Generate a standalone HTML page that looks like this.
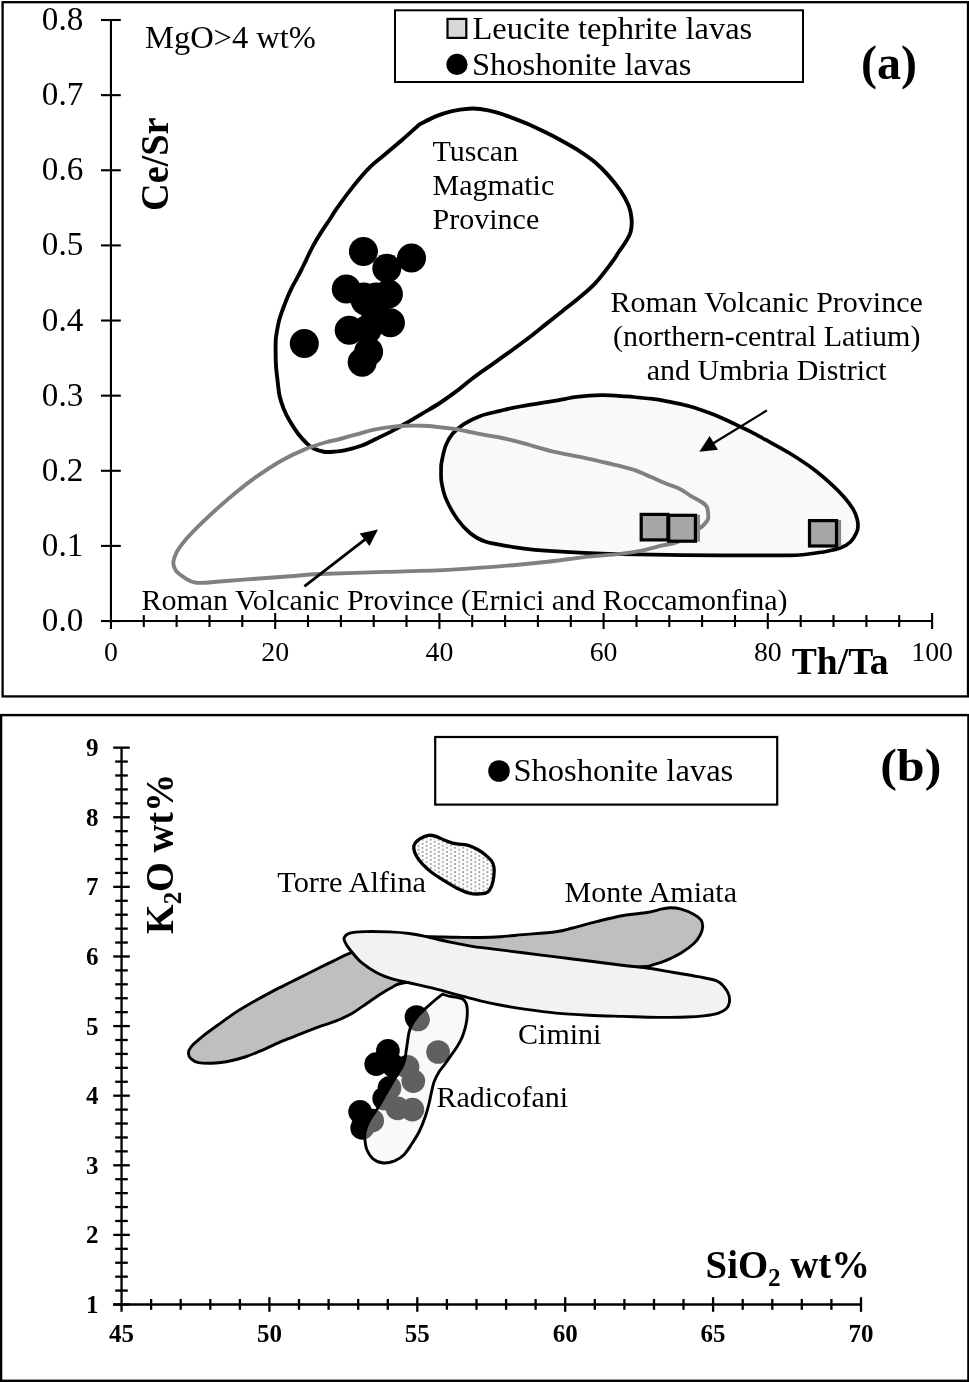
<!DOCTYPE html>
<html><head><meta charset="utf-8"><style>
html,body{margin:0;padding:0;background:#fff;}
svg{display:block;will-change:transform;}
text{font-family:"Liberation Serif",serif;fill:#000;font-variant-ligatures:none;font-feature-settings:"liga" 0,"clig" 0;}
</style></head><body>
<svg width="969" height="1382" viewBox="0 0 969 1382">
<defs>
<pattern id="stip" x="0.5" y="0.5" width="8.1" height="4.05" patternUnits="userSpaceOnUse">
<rect width="8.1" height="4.05" fill="#fff"/><rect x="0" y="0" width="1.9" height="1.8" fill="#a0a0a0"/><rect x="4.05" y="2.02" width="1.9" height="1.8" fill="#a0a0a0"/>
</pattern>
</defs>

<rect x="2.6" y="2.2" width="965.4" height="694.2" fill="none" stroke="#000" stroke-width="2.3"/>
<path d="M560.0,399.9 C569.4,398.3 569.6,397.7 576.5,396.9 C583.4,396.1 593.0,395.3 601.3,395.2 C609.5,395.1 619.5,396.0 626.0,396.4 C632.5,396.8 635.6,397.3 640.0,397.7 C644.4,398.1 648.3,398.4 652.4,398.9 C656.5,399.4 660.7,400.1 664.8,400.9 C668.9,401.6 673.1,402.5 677.2,403.4 C681.3,404.3 685.4,405.2 689.5,406.3 C693.6,407.4 697.8,408.8 701.9,410.2 C706.0,411.6 710.2,413.1 714.3,414.8 C718.4,416.5 722.6,418.4 726.7,420.3 C730.8,422.2 735.0,424.2 739.1,426.2 C743.2,428.2 747.0,429.8 751.5,432.1 C756.0,434.4 760.0,436.7 766.4,440.2 C772.8,443.7 782.0,448.5 789.7,453.3 C797.5,458.1 805.9,463.6 812.9,468.8 C819.9,474.0 826.4,479.7 831.5,484.3 C836.6,488.9 840.2,492.6 843.8,496.7 C847.4,500.8 850.9,505.5 853.1,509.1 C855.3,512.7 856.2,515.6 857.0,518.4 C857.8,521.2 858.1,523.6 858.0,526.0 C857.9,528.4 857.9,529.8 856.6,532.5 C855.3,535.2 853.0,539.5 850.4,542.0 C847.8,544.5 845.0,546.1 841.1,547.6 C837.2,549.1 832.6,550.2 827.2,551.3 C821.8,552.4 814.8,553.3 808.6,554.0 C802.4,554.7 804.8,555.1 790.0,555.3 C775.2,555.5 745.8,555.5 720.0,555.4 C694.2,555.2 658.1,554.8 635.5,554.4 C612.9,554.0 601.0,553.6 584.2,552.8 C567.4,552.0 547.1,550.8 534.7,549.8 C522.3,548.8 518.3,547.9 510.0,546.5 C501.7,545.1 491.8,543.9 485.1,541.6 C478.4,539.4 474.6,536.8 470.0,533.0 C465.4,529.2 461.2,524.7 457.2,519.0 C453.2,513.3 448.5,504.8 445.9,498.6 C443.3,492.4 442.3,486.8 441.5,482.0 C440.7,477.2 441.1,473.3 441.1,470.0 C441.1,466.7 440.8,466.2 441.6,462.1 C442.4,458.0 443.9,450.3 445.7,445.6 C447.5,440.9 449.3,437.6 452.3,434.0 C455.3,430.4 459.1,427.1 463.8,424.1 C468.5,421.1 474.4,418.1 480.4,415.9 C486.4,413.7 493.4,412.5 500.0,410.9 C506.6,409.3 510.0,408.3 520.0,406.5 C530.0,404.7 550.6,401.5 560.0,399.9Z" fill="#f9f9f9" stroke="#000" stroke-width="3.7"/>
<path d="M419.1,124.7 C424.6,121.9 430.1,118.7 435.6,116.4 C441.1,114.1 446.6,112.4 452.1,111.1 C457.6,109.8 464.0,109.0 468.6,108.7 C473.2,108.4 475.4,108.4 480.0,109.0 C484.6,109.6 491.0,110.8 496.5,112.3 C502.0,113.8 507.5,116.0 513.0,118.1 C518.5,120.2 524.0,122.3 529.5,124.7 C535.0,127.1 540.5,129.8 546.0,132.6 C551.5,135.3 557.1,138.2 562.6,141.2 C568.1,144.2 573.6,147.2 579.1,150.8 C584.6,154.4 590.7,158.5 595.6,162.7 C600.5,166.9 604.7,171.2 608.8,175.9 C612.9,180.6 617.1,185.8 620.4,190.7 C623.7,195.6 626.7,200.9 628.6,205.6 C630.5,210.3 631.3,214.4 631.6,218.8 C631.9,223.2 631.7,228.1 630.6,232.0 C629.5,235.9 627.3,239.2 625.3,242.5 C623.3,245.8 620.9,248.8 618.7,252.0 C616.5,255.2 616.0,256.9 612.1,262.0 C608.2,267.1 601.1,276.9 595.6,282.8 C590.1,288.8 584.6,293.0 579.1,297.7 C573.6,302.4 568.1,306.5 562.6,310.9 C557.1,315.3 551.5,319.7 546.0,324.1 C540.5,328.5 535.0,333.1 529.5,337.3 C524.0,341.5 518.5,345.5 513.0,349.5 C507.5,353.5 503.3,356.4 496.5,361.3 C489.7,366.2 478.9,373.6 472.1,378.7 C465.3,383.8 461.1,387.8 455.6,391.9 C450.1,396.0 444.6,399.9 439.1,403.5 C433.6,407.1 428.1,410.1 422.6,413.4 C417.1,416.7 411.5,420.1 406.0,423.3 C400.5,426.5 395.0,429.5 389.5,432.4 C384.0,435.2 377.6,438.2 373.0,440.4 C368.4,442.6 366.7,443.8 362.0,445.5 C357.3,447.2 349.2,449.4 344.6,450.4 C340.0,451.4 337.6,451.5 334.2,451.7 C330.8,451.9 327.3,452.2 323.9,451.7 C320.5,451.2 316.5,450.1 313.6,448.6 C310.7,447.2 309.0,445.5 306.4,443.0 C303.8,440.5 300.9,437.3 298.1,433.7 C295.4,430.1 292.3,425.4 289.9,421.3 C287.5,417.2 285.4,413.2 283.7,408.9 C282.0,404.6 280.5,400.3 279.5,395.5 C278.5,390.7 278.1,384.9 277.5,380.0 C276.9,375.1 276.3,370.9 276.0,365.9 C275.7,360.9 275.6,354.4 275.6,350.0 C275.6,345.6 275.6,342.7 275.8,339.5 C276.0,336.3 276.5,333.7 277.0,330.8 C277.5,327.9 278.0,325.0 278.7,322.1 C279.4,319.2 280.3,316.3 281.3,313.4 C282.3,310.5 283.4,307.6 284.5,304.7 C285.6,301.8 286.8,298.9 288.0,296.0 C289.2,293.1 290.6,290.3 292.0,287.4 C293.4,284.5 295.1,281.6 296.7,278.7 C298.2,275.8 299.7,273.1 301.3,270.0 C302.9,266.9 304.3,263.7 306.2,259.8 C308.1,255.9 310.3,251.0 312.8,246.4 C315.3,241.8 318.3,236.8 321.1,232.4 C323.9,228.0 326.8,223.9 329.4,220.0 C332.0,216.1 332.6,214.5 336.5,208.9 C340.4,203.3 347.5,193.5 353.0,186.6 C358.5,179.7 364.0,173.1 369.5,167.6 C375.0,162.1 380.5,158.3 386.0,153.6 C391.5,148.9 397.1,144.3 402.6,139.5 C408.1,134.7 413.6,129.6 419.1,124.7Z" fill="none" stroke="#000" stroke-width="3.9"/>
<path d="M325.0,442.5 C319.2,444.2 312.5,446.2 305.4,449.1 C298.3,452.0 290.9,455.3 282.6,460.0 C274.3,464.7 263.8,471.6 255.8,477.2 C247.8,482.8 241.3,488.1 234.4,493.7 C227.5,499.3 220.6,505.5 214.5,511.0 C208.4,516.5 202.9,521.8 198.0,526.7 C193.1,531.7 188.4,536.4 184.8,540.7 C181.2,545.0 178.5,548.7 176.6,552.3 C174.7,555.9 173.5,559.2 173.3,562.2 C173.2,565.2 173.8,567.8 175.7,570.4 C177.6,573.0 181.4,575.8 184.8,577.9 C188.2,580.0 190.1,582.2 196.4,582.8 C202.7,583.3 212.9,581.9 222.8,581.2 C232.7,580.5 244.6,579.5 255.8,578.7 C267.0,577.9 279.3,577.1 290.0,576.3 C300.7,575.5 304.0,574.7 320.0,574.0 C336.0,573.3 364.0,572.6 386.0,571.9 C408.0,571.2 430.1,570.8 452.1,569.6 C474.1,568.4 501.8,566.1 518.1,564.7 C534.4,563.4 539.0,562.8 550.0,561.5 C561.0,560.2 572.5,558.4 584.2,557.1 C595.9,555.8 610.6,555.0 620.0,553.9 C629.4,552.8 633.7,552.2 640.6,550.8 C647.5,549.4 655.4,547.1 661.3,545.7 C667.1,544.3 670.9,544.3 675.7,542.6 C680.5,540.9 686.2,537.8 690.0,535.5 C693.8,533.2 696.3,530.7 698.4,529.1 C700.5,527.5 701.0,527.5 702.6,526.0 C704.2,524.5 706.8,521.8 707.7,519.9 C708.6,518.0 708.4,517.0 708.2,514.7 C708.0,512.5 708.0,508.6 706.7,506.4 C705.4,504.2 703.2,503.1 700.5,501.3 C697.8,499.5 693.6,497.7 690.2,495.6 C686.8,493.5 683.9,490.9 679.9,488.9 C675.9,486.9 671.2,485.7 666.4,483.7 C661.6,481.7 656.1,479.2 651.0,477.0 C645.9,474.8 640.7,472.1 635.5,470.3 C630.3,468.5 623.6,466.9 620.0,466.0 C616.4,465.1 618.9,465.8 613.8,464.6 C608.6,463.4 598.7,460.9 589.1,458.8 C579.5,456.7 567.0,454.8 556.0,452.2 C545.0,449.6 532.3,445.6 523.0,443.1 C513.7,440.7 505.7,438.7 500.0,437.5 C494.3,436.3 493.2,436.6 488.6,435.7 C484.0,434.8 477.6,433.5 472.1,432.4 C466.6,431.3 461.1,430.0 455.6,429.1 C450.1,428.2 444.6,427.7 439.1,427.1 C433.6,426.6 428.1,426.0 422.6,425.8 C417.1,425.6 411.5,425.6 406.0,425.8 C400.5,426.0 395.0,426.4 389.5,427.1 C384.0,427.8 378.5,428.7 373.0,429.9 C367.5,431.1 362.0,432.9 356.5,434.4 C351.0,435.9 345.2,437.6 340.0,439.0 C334.8,440.4 330.8,440.8 325.0,442.5Z" fill="none" stroke="#808080" stroke-width="3.9"/>
<rect x="641.2" y="514.4" width="26.7" height="25.5" fill="#a6a6a6" stroke="#000" stroke-width="3.2"/>
<rect x="696.0" y="514.7" width="4" height="27.1" fill="#888"/><rect x="668.7" y="515.3" width="26.7" height="25.9" fill="#a6a6a6" stroke="#000" stroke-width="3.2"/>
<rect x="837.1" y="520.0" width="4" height="26.6" fill="#888"/><rect x="809.5" y="520.6" width="27.0" height="25.4" fill="#a6a6a6" stroke="#000" stroke-width="3.2"/>
<circle cx="304.3" cy="343.4" r="14.5" fill="#000"/>
<circle cx="363.4" cy="251.4" r="14.5" fill="#000"/>
<circle cx="411.5" cy="258" r="14.5" fill="#000"/>
<circle cx="386.8" cy="268.3" r="14.5" fill="#000"/>
<circle cx="346.3" cy="289" r="14.5" fill="#000"/>
<circle cx="388.4" cy="294" r="14.5" fill="#000"/>
<circle cx="363.8" cy="297" r="14.5" fill="#000"/>
<circle cx="390.4" cy="322.8" r="14.5" fill="#000"/>
<circle cx="349.2" cy="330.3" r="14.5" fill="#000"/>
<circle cx="367.2" cy="329.4" r="14.5" fill="#000"/>
<circle cx="368.6" cy="351.7" r="14.5" fill="#000"/>
<circle cx="362.2" cy="362.2" r="14.5" fill="#000"/>
<circle cx="365.5" cy="301" r="14.5" fill="#000"/>
<circle cx="376" cy="297" r="14.5" fill="#000"/>
<circle cx="375.5" cy="312" r="14.5" fill="#000"/>
<line x1="304.4" y1="586.4" x2="366.1" y2="538.6" stroke="#000" stroke-width="2.8"/><polygon points="378,529.4 369.5,546.1 359.7,533.5" fill="#000"/>
<line x1="766.9" y1="410.4" x2="712.1" y2="444.0" stroke="#000" stroke-width="2.2"/><polygon points="699.3,451.8 709.6,436.1 718.0,449.7" fill="#000"/>
<g stroke="#000" stroke-width="2.1" fill="none">
<line x1="110.95" y1="20.00999999999999" x2="110.95" y2="629"/>
<line x1="101" y1="621.05" x2="932.0500000000001" y2="621.05"/>
<line x1="101" y1="621.05" x2="120.8" y2="621.05"/>
<line x1="101" y1="545.92" x2="120.8" y2="545.92"/>
<line x1="101" y1="470.79" x2="120.8" y2="470.79"/>
<line x1="101" y1="395.66" x2="120.8" y2="395.66"/>
<line x1="101" y1="320.53" x2="120.8" y2="320.53"/>
<line x1="101" y1="245.40" x2="120.8" y2="245.40"/>
<line x1="101" y1="170.27" x2="120.8" y2="170.27"/>
<line x1="101" y1="95.14" x2="120.8" y2="95.14"/>
<line x1="101" y1="20.01" x2="120.8" y2="20.01"/>
<line x1="143.8" y1="615.05" x2="143.8" y2="627"/>
<line x1="176.6" y1="615.05" x2="176.6" y2="627"/>
<line x1="209.5" y1="615.05" x2="209.5" y2="627"/>
<line x1="242.3" y1="615.05" x2="242.3" y2="627"/>
<line x1="275.2" y1="613" x2="275.2" y2="629"/>
<line x1="308.0" y1="615.05" x2="308.0" y2="627"/>
<line x1="340.9" y1="615.05" x2="340.9" y2="627"/>
<line x1="373.7" y1="615.05" x2="373.7" y2="627"/>
<line x1="406.5" y1="615.05" x2="406.5" y2="627"/>
<line x1="439.4" y1="613" x2="439.4" y2="629"/>
<line x1="472.2" y1="615.05" x2="472.2" y2="627"/>
<line x1="505.1" y1="615.05" x2="505.1" y2="627"/>
<line x1="537.9" y1="615.05" x2="537.9" y2="627"/>
<line x1="570.8" y1="615.05" x2="570.8" y2="627"/>
<line x1="603.6" y1="613" x2="603.6" y2="629"/>
<line x1="636.5" y1="615.05" x2="636.5" y2="627"/>
<line x1="669.3" y1="615.05" x2="669.3" y2="627"/>
<line x1="702.1" y1="615.05" x2="702.1" y2="627"/>
<line x1="735.0" y1="615.05" x2="735.0" y2="627"/>
<line x1="767.8" y1="613" x2="767.8" y2="629"/>
<line x1="800.7" y1="615.05" x2="800.7" y2="627"/>
<line x1="833.5" y1="615.05" x2="833.5" y2="627"/>
<line x1="866.4" y1="615.05" x2="866.4" y2="627"/>
<line x1="899.2" y1="615.05" x2="899.2" y2="627"/>
<line x1="932.1" y1="613" x2="932.1" y2="629"/>
</g>
<text x="83.3" y="631.0" font-size="33.2" text-anchor="end">0.0</text>
<text x="83.3" y="555.9" font-size="33.2" text-anchor="end">0.1</text>
<text x="83.3" y="480.8" font-size="33.2" text-anchor="end">0.2</text>
<text x="83.3" y="405.7" font-size="33.2" text-anchor="end">0.3</text>
<text x="83.3" y="330.5" font-size="33.2" text-anchor="end">0.4</text>
<text x="83.3" y="255.4" font-size="33.2" text-anchor="end">0.5</text>
<text x="83.3" y="180.3" font-size="33.2" text-anchor="end">0.6</text>
<text x="83.3" y="105.1" font-size="33.2" text-anchor="end">0.7</text>
<text x="83.3" y="30.0" font-size="33.2" text-anchor="end">0.8</text>
<text x="111.0" y="661.2" font-size="27.8" text-anchor="middle">0</text>
<text x="275.2" y="661.2" font-size="27.8" text-anchor="middle">20</text>
<text x="439.4" y="661.2" font-size="27.8" text-anchor="middle">40</text>
<text x="603.6" y="661.2" font-size="27.8" text-anchor="middle">60</text>
<text x="767.8" y="661.2" font-size="27.8" text-anchor="middle">80</text>
<text x="932.1" y="661.2" font-size="27.8" text-anchor="middle">100</text>
<text x="791.8" y="674.4" font-size="37.6" font-weight="bold">Th/Ta</text>
<text transform="translate(168,211) rotate(-90) scale(0.945,1)" font-size="40.5" font-weight="bold">Ce/Sr</text>
<text x="145" y="48" font-size="32.5">MgO&gt;4 wt%</text>
<text x="861" y="78.8" font-size="48" font-weight="bold">(a)</text>
<rect x="395" y="10.3" width="408" height="71.7" fill="#fff" stroke="#000" stroke-width="2"/>
<rect x="447.5" y="18.9" width="18.8" height="19" fill="#d8d8d8" stroke="#000" stroke-width="2.2"/>
<circle cx="457" cy="64.4" r="10.6" fill="#000"/>
<text x="472.5" y="39" font-size="32.5">Leucite tephrite lavas</text>
<text x="472" y="74.7" font-size="32.5">Shoshonite lavas</text>
<text x="432.6" y="160.9" font-size="30">Tuscan</text>
<text x="432.6" y="195" font-size="30">Magmatic</text>
<text x="432.6" y="228.7" font-size="30">Province</text>
<text x="766.7" y="312.3" font-size="30" text-anchor="middle">Roman Volcanic Province</text>
<text x="766.7" y="346.1" font-size="30" text-anchor="middle">(northern-central Latium)</text>
<text x="766.7" y="379.6" font-size="30" text-anchor="middle">and Umbria District</text>
<text x="141.4" y="610.2" font-size="30">Roman Volcanic Province (Ernici and Roccamonf&#8204;ina)</text>
<rect x="1.1" y="715.1" width="967.3" height="665.7" fill="none" stroke="#000" stroke-width="2.4"/>
<path d="M188.4,1053.3 C188.4,1051.3 188.8,1049.6 191.1,1046.8 C193.4,1044.0 198.0,1040.1 202.3,1036.6 C206.7,1033.0 211.6,1029.5 217.2,1025.5 C222.8,1021.5 229.5,1016.4 235.7,1012.4 C241.9,1008.4 248.1,1004.8 254.3,1001.3 C260.5,997.8 266.7,994.4 272.9,991.1 C279.1,987.9 285.3,984.9 291.5,981.8 C297.7,978.7 305.2,974.9 310.0,972.5 C314.8,970.1 315.8,969.6 320.0,967.5 C324.2,965.4 330.7,962.3 335.5,960.0 C340.3,957.7 343.1,955.9 348.9,953.6 C354.6,951.3 362.3,948.2 370.0,946.0 C377.7,943.8 387.5,941.8 395.0,940.5 C402.5,939.2 409.3,938.6 415.0,938.0 C420.7,937.4 422.4,936.9 429.2,936.8 C436.0,936.7 447.1,937.2 455.6,937.3 C464.1,937.4 473.0,937.6 480.4,937.5 C487.8,937.4 492.9,937.3 500.0,936.8 C507.1,936.3 513.7,935.5 523.0,934.6 C532.3,933.8 547.7,932.8 556.0,931.7 C564.3,930.6 565.7,929.7 572.6,928.0 C579.5,926.3 589.0,923.4 597.3,921.4 C605.5,919.4 613.8,917.3 622.1,915.8 C630.4,914.3 641.0,913.5 647.0,912.5 C653.0,911.5 654.6,910.6 658.4,909.8 C662.2,909.0 665.9,907.9 669.7,907.8 C673.5,907.7 677.1,908.1 681.1,909.2 C685.1,910.3 690.3,912.5 693.6,914.3 C696.9,916.1 699.5,917.9 701.0,920.0 C702.5,922.1 702.8,924.3 702.7,926.8 C702.6,929.2 701.9,931.9 700.4,934.7 C698.9,937.5 696.8,940.8 693.6,943.8 C690.4,946.8 685.7,950.1 681.1,952.9 C676.5,955.6 671.0,958.3 666.3,960.3 C661.6,962.3 656.3,963.8 652.7,964.8 C649.1,965.8 653.6,965.6 644.8,966.5 C636.0,967.4 620.8,968.8 600.0,970.0 C579.2,971.2 546.7,972.7 520.0,974.0 C493.3,975.3 459.6,976.5 440.0,978.0 C420.4,979.5 410.6,981.5 402.6,983.0 C394.6,984.5 395.6,985.5 392.2,987.2 C388.8,988.9 386.2,990.5 381.9,993.3 C377.6,996.0 371.5,1000.2 366.4,1003.7 C361.2,1007.2 356.1,1011.1 351.0,1014.0 C345.9,1016.9 340.7,1019.1 335.5,1021.2 C330.3,1023.3 325.8,1024.3 320.0,1026.4 C314.2,1028.5 307.0,1031.3 300.7,1033.8 C294.4,1036.3 288.4,1038.6 282.2,1041.2 C276.0,1043.8 269.8,1047.0 263.6,1049.6 C257.4,1052.2 251.2,1055.0 245.0,1057.0 C238.8,1059.0 232.0,1060.7 226.4,1061.7 C220.8,1062.7 216.2,1063.1 211.6,1063.2 C207.0,1063.3 202.0,1063.3 198.6,1062.6 C195.2,1061.9 192.8,1060.5 191.1,1058.9 C189.4,1057.4 188.4,1055.3 188.4,1053.3Z" fill="#bfbfbf" stroke="#000" stroke-width="2.9"/>
<path d="M344.1,938.2 C344.7,936.3 346.4,934.3 349.9,933.2 C353.3,932.1 358.2,931.8 364.8,931.6 C371.4,931.4 382.1,931.6 389.5,931.9 C396.9,932.2 403.3,932.7 409.4,933.5 C415.5,934.3 419.6,935.2 425.9,936.5 C432.2,937.8 439.6,939.9 447.3,941.5 C455.0,943.1 465.0,945.2 472.1,946.4 C479.2,947.6 481.5,947.5 490.0,948.6 C498.5,949.7 512.0,951.4 523.0,952.8 C534.0,954.2 545.0,955.5 556.0,956.9 C567.0,958.3 578.1,959.6 589.1,961.0 C600.1,962.4 613.0,964.1 622.1,965.2 C631.2,966.3 638.5,966.9 643.6,967.5 C648.7,968.1 647.4,967.9 652.7,968.8 C658.0,969.7 667.8,971.5 675.4,972.8 C683.0,974.1 691.3,975.4 698.1,976.7 C704.9,978.0 711.9,979.0 716.3,980.7 C720.6,982.4 722.1,984.6 724.2,987.0 C726.3,989.4 727.9,992.3 728.8,994.9 C729.6,997.5 729.7,1000.5 729.3,1002.8 C728.9,1005.1 728.3,1006.8 726.5,1008.5 C724.7,1010.2 722.3,1011.9 718.5,1013.1 C714.7,1014.3 709.1,1015.2 703.8,1015.9 C698.5,1016.5 693.4,1016.8 686.8,1017.0 C680.2,1017.2 671.7,1017.4 664.1,1017.4 C656.5,1017.4 648.4,1017.2 641.4,1017.0 C634.4,1016.8 630.8,1016.7 622.1,1016.4 C613.4,1016.1 600.1,1015.8 589.1,1015.2 C578.1,1014.7 567.0,1014.2 556.0,1013.1 C545.0,1012.0 532.3,1010.2 523.0,1008.9 C513.7,1007.5 507.1,1006.3 500.0,1005.0 C492.9,1003.7 487.8,1002.7 480.4,1000.9 C473.0,999.1 463.9,996.5 455.6,994.3 C447.3,992.1 438.8,989.7 430.8,987.7 C422.8,985.7 414.1,984.0 407.7,982.5 C401.3,981.0 397.3,980.5 392.2,978.9 C387.1,977.3 381.9,975.5 376.8,972.7 C371.7,970.0 365.6,966.0 361.3,962.4 C357.0,958.8 353.5,954.0 351.0,951.0 C348.5,948.0 347.4,946.6 346.3,944.5 C345.2,942.4 343.5,940.1 344.1,938.2Z" fill="#f2f2f2" stroke="#000" stroke-width="2.9"/>
<path d="M428.7,835.3 C431.3,835.0 433.4,835.6 436.0,836.4 C438.6,837.2 441.4,838.9 444.2,840.0 C446.9,841.1 449.9,842.4 452.5,843.1 C455.1,843.8 456.9,843.7 459.7,844.1 C462.4,844.5 466.1,844.7 469.0,845.6 C471.9,846.5 474.4,847.8 477.2,849.3 C479.9,850.8 483.1,852.9 485.5,854.9 C487.9,856.9 490.3,859.0 491.7,861.1 C493.1,863.2 493.6,864.7 494.0,867.3 C494.4,869.9 494.2,873.5 493.8,876.6 C493.4,879.7 492.7,883.3 491.7,885.9 C490.7,888.5 489.5,890.8 487.6,892.1 C485.7,893.4 483.4,893.7 480.3,893.9 C477.2,894.1 472.9,894.1 469.0,893.1 C465.1,892.1 460.7,890.1 456.6,888.0 C452.5,885.9 448.3,883.3 444.2,880.7 C440.1,878.1 435.4,875.2 431.8,872.5 C428.2,869.8 425.1,867.0 422.5,864.2 C419.9,861.5 417.8,858.6 416.4,856.0 C414.9,853.4 414.1,850.8 413.8,848.7 C413.5,846.6 413.7,845.3 414.8,843.6 C415.9,841.9 418.2,839.8 420.5,838.4 C422.8,837.0 426.1,835.6 428.7,835.3Z" fill="url(#stip)" stroke="#000" stroke-width="3.3"/>
<circle cx="416.5" cy="1017" r="11.85" fill="#000"/>
<circle cx="418" cy="1019.5" r="11.85" fill="#000"/>
<circle cx="393.3" cy="1065.6" r="11.85" fill="#000"/>
<circle cx="438.1" cy="1052" r="11.85" fill="#000"/>
<circle cx="387.9" cy="1050.8" r="11.85" fill="#000"/>
<circle cx="376.2" cy="1064.1" r="11.85" fill="#000"/>
<circle cx="407.5" cy="1066.9" r="11.85" fill="#000"/>
<circle cx="413.3" cy="1081.1" r="11.85" fill="#000"/>
<circle cx="389.5" cy="1087.9" r="11.85" fill="#000"/>
<circle cx="384.2" cy="1098.5" r="11.85" fill="#000"/>
<circle cx="397.6" cy="1108.4" r="11.85" fill="#000"/>
<circle cx="412.4" cy="1109.6" r="11.85" fill="#000"/>
<circle cx="360.1" cy="1111.8" r="11.85" fill="#000"/>
<circle cx="372.2" cy="1120.7" r="11.85" fill="#000"/>
<circle cx="362.2" cy="1127.9" r="11.85" fill="#000"/>
<path d="M442.5,994.1 C444.6,994.8 446.3,995.6 448.7,996.1 C451.1,996.6 454.6,996.9 456.9,997.4 C459.2,997.9 461.2,998.0 462.7,999.0 C464.2,1000.0 465.2,1001.4 466.0,1003.2 C466.8,1005.0 467.2,1007.0 467.3,1009.8 C467.4,1012.5 467.2,1016.7 466.8,1019.7 C466.4,1022.7 466.0,1024.9 465.2,1027.9 C464.4,1030.9 463.3,1034.6 461.9,1037.8 C460.5,1041.0 458.7,1044.0 456.9,1046.9 C455.1,1049.8 453.2,1052.4 451.2,1055.2 C449.2,1058.0 447.0,1061.2 445.0,1064.0 C443.0,1066.8 440.9,1068.8 439.1,1071.8 C437.3,1074.8 435.4,1078.4 434.1,1081.7 C432.9,1085.0 432.4,1088.1 431.6,1091.6 C430.8,1095.1 430.2,1098.7 429.2,1102.8 C428.2,1106.9 427.1,1111.3 425.5,1116.0 C423.9,1120.7 421.7,1126.5 419.5,1131.0 C417.3,1135.5 414.8,1139.3 412.2,1143.3 C409.6,1147.2 406.9,1151.8 404.0,1154.7 C401.1,1157.6 398.1,1159.5 394.7,1160.9 C391.2,1162.3 386.9,1163.3 383.3,1163.0 C379.7,1162.7 375.8,1161.0 373.0,1158.8 C370.2,1156.5 368.2,1152.9 366.8,1149.5 C365.4,1146.1 365.1,1141.2 364.8,1138.2 C364.5,1135.2 364.4,1134.3 365.2,1131.3 C366.0,1128.3 367.7,1123.8 369.7,1120.1 C371.7,1116.4 374.5,1113.3 377.2,1109.0 C379.9,1104.7 382.9,1099.0 385.8,1094.1 C388.7,1089.1 392.1,1083.4 394.5,1079.3 C396.9,1075.2 399.0,1072.0 400.5,1069.5 C402.0,1067.0 402.7,1066.2 403.5,1064.0 C404.3,1061.8 405.1,1058.2 405.5,1056.0 C405.9,1053.8 405.8,1053.3 406.1,1051.1 C406.4,1048.9 407.0,1045.6 407.4,1042.8 C407.8,1040.0 408.1,1037.1 408.6,1034.5 C409.2,1031.9 409.5,1029.7 410.7,1027.1 C411.9,1024.5 413.7,1021.5 415.6,1018.9 C417.5,1016.3 420.0,1013.8 422.3,1011.4 C424.6,1009.0 427.4,1006.9 429.7,1004.8 C432.0,1002.7 434.2,1000.8 436.3,999.0 C438.4,997.2 440.4,995.7 442.5,994.1Z" fill="#f0f0f0" fill-opacity="0.4" stroke="#000" stroke-width="2.9"/>
<g stroke="#000" stroke-width="2.3" fill="none">
<line x1="121.55" y1="747.7" x2="121.55" y2="1311.7"/>
<line x1="113.2" y1="1304.5" x2="861.0" y2="1304.5"/>
<line x1="113.2" y1="1304.50" x2="129.8" y2="1304.50"/>
<line x1="115.2" y1="1290.58" x2="127.8" y2="1290.58"/>
<line x1="115.2" y1="1276.66" x2="127.8" y2="1276.66"/>
<line x1="115.2" y1="1262.74" x2="127.8" y2="1262.74"/>
<line x1="115.2" y1="1248.82" x2="127.8" y2="1248.82"/>
<line x1="113.2" y1="1234.89" x2="129.8" y2="1234.89"/>
<line x1="115.2" y1="1220.97" x2="127.8" y2="1220.97"/>
<line x1="115.2" y1="1207.05" x2="127.8" y2="1207.05"/>
<line x1="115.2" y1="1193.13" x2="127.8" y2="1193.13"/>
<line x1="115.2" y1="1179.21" x2="127.8" y2="1179.21"/>
<line x1="113.2" y1="1165.29" x2="129.8" y2="1165.29"/>
<line x1="115.2" y1="1151.37" x2="127.8" y2="1151.37"/>
<line x1="115.2" y1="1137.45" x2="127.8" y2="1137.45"/>
<line x1="115.2" y1="1123.52" x2="127.8" y2="1123.52"/>
<line x1="115.2" y1="1109.60" x2="127.8" y2="1109.60"/>
<line x1="113.2" y1="1095.68" x2="129.8" y2="1095.68"/>
<line x1="115.2" y1="1081.76" x2="127.8" y2="1081.76"/>
<line x1="115.2" y1="1067.84" x2="127.8" y2="1067.84"/>
<line x1="115.2" y1="1053.92" x2="127.8" y2="1053.92"/>
<line x1="115.2" y1="1040.00" x2="127.8" y2="1040.00"/>
<line x1="113.2" y1="1026.08" x2="129.8" y2="1026.08"/>
<line x1="115.2" y1="1012.15" x2="127.8" y2="1012.15"/>
<line x1="115.2" y1="998.23" x2="127.8" y2="998.23"/>
<line x1="115.2" y1="984.31" x2="127.8" y2="984.31"/>
<line x1="115.2" y1="970.39" x2="127.8" y2="970.39"/>
<line x1="113.2" y1="956.47" x2="129.8" y2="956.47"/>
<line x1="115.2" y1="942.55" x2="127.8" y2="942.55"/>
<line x1="115.2" y1="928.63" x2="127.8" y2="928.63"/>
<line x1="115.2" y1="914.71" x2="127.8" y2="914.71"/>
<line x1="115.2" y1="900.79" x2="127.8" y2="900.79"/>
<line x1="113.2" y1="886.86" x2="129.8" y2="886.86"/>
<line x1="115.2" y1="872.94" x2="127.8" y2="872.94"/>
<line x1="115.2" y1="859.02" x2="127.8" y2="859.02"/>
<line x1="115.2" y1="845.10" x2="127.8" y2="845.10"/>
<line x1="115.2" y1="831.18" x2="127.8" y2="831.18"/>
<line x1="113.2" y1="817.26" x2="129.8" y2="817.26"/>
<line x1="115.2" y1="803.34" x2="127.8" y2="803.34"/>
<line x1="115.2" y1="789.42" x2="127.8" y2="789.42"/>
<line x1="115.2" y1="775.49" x2="127.8" y2="775.49"/>
<line x1="115.2" y1="761.57" x2="127.8" y2="761.57"/>
<line x1="113.2" y1="747.65" x2="129.8" y2="747.65"/>
<line x1="151.1" y1="1299" x2="151.1" y2="1309.8"/>
<line x1="180.7" y1="1299" x2="180.7" y2="1309.8"/>
<line x1="210.3" y1="1299" x2="210.3" y2="1309.8"/>
<line x1="239.9" y1="1299" x2="239.9" y2="1309.8"/>
<line x1="269.4" y1="1297.2" x2="269.4" y2="1311.8"/>
<line x1="299.0" y1="1299" x2="299.0" y2="1309.8"/>
<line x1="328.6" y1="1299" x2="328.6" y2="1309.8"/>
<line x1="358.2" y1="1299" x2="358.2" y2="1309.8"/>
<line x1="387.8" y1="1299" x2="387.8" y2="1309.8"/>
<line x1="417.3" y1="1297.2" x2="417.3" y2="1311.8"/>
<line x1="446.9" y1="1299" x2="446.9" y2="1309.8"/>
<line x1="476.5" y1="1299" x2="476.5" y2="1309.8"/>
<line x1="506.1" y1="1299" x2="506.1" y2="1309.8"/>
<line x1="535.6" y1="1299" x2="535.6" y2="1309.8"/>
<line x1="565.2" y1="1297.2" x2="565.2" y2="1311.8"/>
<line x1="594.8" y1="1299" x2="594.8" y2="1309.8"/>
<line x1="624.4" y1="1299" x2="624.4" y2="1309.8"/>
<line x1="654.0" y1="1299" x2="654.0" y2="1309.8"/>
<line x1="683.5" y1="1299" x2="683.5" y2="1309.8"/>
<line x1="713.1" y1="1297.2" x2="713.1" y2="1311.8"/>
<line x1="742.7" y1="1299" x2="742.7" y2="1309.8"/>
<line x1="772.3" y1="1299" x2="772.3" y2="1309.8"/>
<line x1="801.8" y1="1299" x2="801.8" y2="1309.8"/>
<line x1="831.4" y1="1299" x2="831.4" y2="1309.8"/>
<line x1="861.0" y1="1297.2" x2="861.0" y2="1311.8"/>
</g>
<text x="98.5" y="1313.0" font-size="25" font-weight="bold" text-anchor="end">1</text>
<text x="98.5" y="1243.4" font-size="25" font-weight="bold" text-anchor="end">2</text>
<text x="98.5" y="1173.8" font-size="25" font-weight="bold" text-anchor="end">3</text>
<text x="98.5" y="1104.2" font-size="25" font-weight="bold" text-anchor="end">4</text>
<text x="98.5" y="1034.6" font-size="25" font-weight="bold" text-anchor="end">5</text>
<text x="98.5" y="965.0" font-size="25" font-weight="bold" text-anchor="end">6</text>
<text x="98.5" y="895.4" font-size="25" font-weight="bold" text-anchor="end">7</text>
<text x="98.5" y="825.8" font-size="25" font-weight="bold" text-anchor="end">8</text>
<text x="98.5" y="756.2" font-size="25" font-weight="bold" text-anchor="end">9</text>
<text x="121.5" y="1341.6" font-size="25" font-weight="bold" text-anchor="middle">45</text>
<text x="269.4" y="1341.6" font-size="25" font-weight="bold" text-anchor="middle">50</text>
<text x="417.3" y="1341.6" font-size="25" font-weight="bold" text-anchor="middle">55</text>
<text x="565.2" y="1341.6" font-size="25" font-weight="bold" text-anchor="middle">60</text>
<text x="713.1" y="1341.6" font-size="25" font-weight="bold" text-anchor="middle">65</text>
<text x="861.0" y="1341.6" font-size="25" font-weight="bold" text-anchor="middle">70</text>
<text transform="translate(705.6,1277.5) scale(0.969,1)" font-size="40" font-weight="bold">SiO<tspan font-size="26" dy="8">2</tspan><tspan dy="-8"> wt%</tspan></text>
<text transform="translate(173.1,934.2) rotate(-90) scale(0.959,1)" font-size="40" font-weight="bold">K<tspan font-size="26" dy="8">2</tspan><tspan dy="-8">O wt%</tspan></text>
<text transform="translate(880.2,781.3) scale(1.07,1)" font-size="46.8" font-weight="bold">(b)</text>
<rect x="435.2" y="737" width="342" height="67.6" fill="#fff" stroke="#000" stroke-width="2.2"/>
<circle cx="499" cy="771" r="10.8" fill="#000"/>
<text x="513.4" y="781.2" font-size="32.6">Shoshonite lavas</text>
<text x="277.2" y="892.2" font-size="30.4">Torre Alf&#8204;ina</text>
<text x="564.5" y="902.4" font-size="30">Monte Amiata</text>
<text x="518.1" y="1043.6" font-size="30">Cimini</text>
<text x="436.5" y="1107.4" font-size="30">Radicofani</text>
</svg></body></html>
